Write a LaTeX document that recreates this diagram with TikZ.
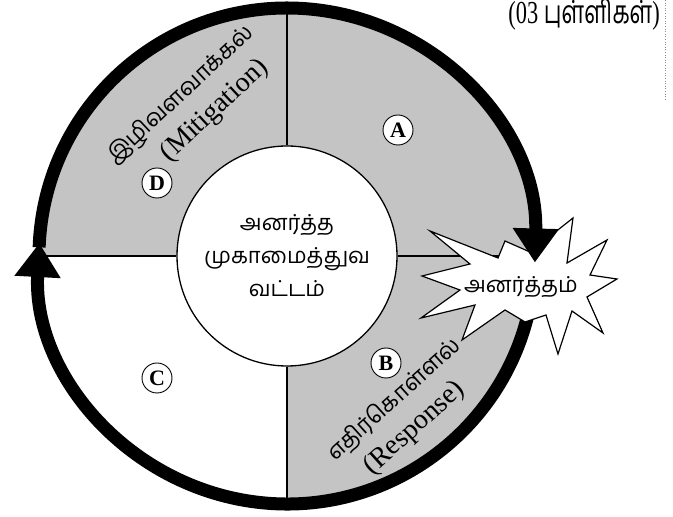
\documentclass[tikz,border=0pt]{standalone}
\usepackage{fontspec}
\usepackage{graphicx}
\setmainfont{Liberation Serif}
\newfontfamily\tam[Script=Tamil]{Hind Madurai}
\usetikzlibrary{arrows.meta}
\begin{document}
\begin{tikzpicture}[x=1pt,y=1pt,
  ring/.style={line width=13pt},
  divider/.style={line width=1.2pt},
  halftone/.style={fill=black!23},
  hub/.style={circle,draw,line width=1.3pt,fill=white,minimum size=220pt,inner sep=0pt,align=center,font=\tam\fontsize{22}{33}\selectfont},
  badge/.style={circle,draw,line width=0.9pt,fill=white,inner sep=0pt,minimum size=30pt,font=\fontsize{22}{22}\selectfont\bfseries},
  tamlabel/.style={font=\tam\fontsize{22}{22}\selectfont,inner sep=0pt},
  phase/.style={align=center,inner sep=0pt,font=\fontsize{28}{35}\selectfont},
  burst/.style={draw,fill=white,line width=1.2pt,line join=miter},
  bigtip/.style={-{Triangle[width=44pt,length=34pt]}}
]
\useasboundingbox (0,0) rectangle (673,517);
\coordinate (C) at (287,261);
% shaded quadrants
\fill[halftone] (C) -- ++(0:248) arc[start angle=0,end angle=180,radius=248] -- cycle;
\fill[halftone] (C) -- ++(-90:248) arc[start angle=-90,end angle=0,radius=248] -- cycle;
% hub
\node[hub] (hub) at (C) {அனர்த்த\\முகாமைத்துவ\\வட்டம்};
\coordinate (top) at ([shift={(90:248)}]C);
\coordinate (bot) at ([shift={(-90:248)}]C);
\coordinate (lft) at ([shift={(180:248)}]C);
\coordinate (rgt) at ([shift={(0:248)}]C);
\draw[divider] (hub.north) -- (top);
\draw[divider] (hub.south) -- (bot);
\draw[divider] (hub.west) -- (lft);
\draw[divider] (hub.east) -- (rgt);
% lower arc (behind the burst)
\draw[ring,bigtip] ([shift={(-6:248)}]C) arc[start angle=-6,end angle=-183,radius=248];
% burst
\draw[burst] (430,286) -- (498,259) -- (505,276) -- (530,265) -- (573,299) -- (567,254)
  -- (607,277) -- (590,242) -- (617,238) -- (587,220) -- (603,184) -- (572,206)
  -- (558,163) -- (546,202) -- (525,195) -- (505,207) -- (462,177) -- (475,212)
  -- (421,199) -- (460,227) -- (422,241) -- (470,253) -- cycle;
\node[tamlabel] (disaster) at (521,230) {அனர்த்தம்};
% upper arc
\draw[ring,bigtip] ([shift={(178:248)}]C) arc[start angle=178,end angle=-1.5,radius=248];
% badges
\node[badge] (A) at (398,387) {A};
\node[badge] (B) at (386,154) {B};
\node[badge] (Cc) at (157,139) {C};
\node[badge] (D) at (157,334) {D};
% phase labels
\node[phase,rotate=43] (mit) at (193,409) {{\tam\fontsize{23}{23}\selectfont இழிவளவாக்கல்}\\\hspace*{28pt}(Mitigation)};
\node[phase,rotate=42] (res) at (406,104) {{\tam\fontsize{23}{23}\selectfont எதிர்கொள்ளல்}\\(Response)\hspace*{8pt}};
% marks
\node[anchor=base east,inner sep=0pt,font=\fontsize{32}{32}\selectfont] (marks) at (660,493) {\scalebox{0.7}[1]{(03 {\tam புள்ளிகள்})}};
\draw[black!45,dotted,line width=0.6pt] (665,517) -- (665,417);
\end{tikzpicture}
\end{document}
